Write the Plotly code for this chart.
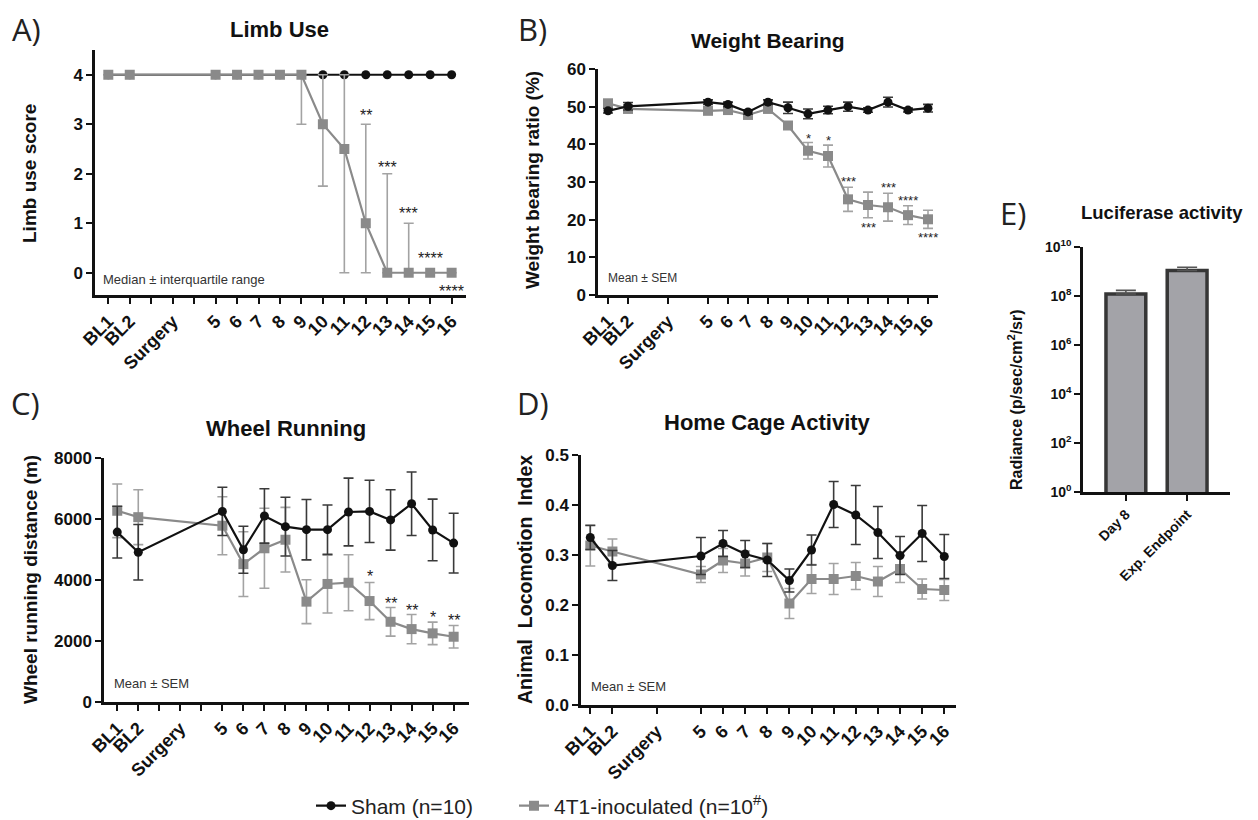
import plotly.graph_objects as go

W, H = 1258, 820
FONT = "Liberation Sans"
BLACK = "#111111"
GREY = "#8a8a8a"
GREY_ERR = "#a3a3a3"
BLACK_ERR = "#3a3a3a"

# ---- time points (numeric positions on the shared day axis) ----
days = [0, 1, 5, 6, 7, 8, 9, 10, 11, 12, 13, 14, 15, 16]
ticks_lab = [0, 1, 3] + list(range(5, 17))
ticks_lab_text = ["BL1", "BL2", "Surgery"] + [str(d) for d in range(5, 17)]
ticks_unlabelled = [2, 4]

# ---- A) Limb use: median with interquartile range ----
limb_sham = [4, 4, 4, 4, 4, 4, 4, 4, 4, 4, 4, 4, 4, 4]
limb_4t1 = [4, 4, 4, 4, 4, 4, 4, 3, 2.5, 1, 0, 0, 0, 0]
limb_4t1_q1 = [4, 4, 4, 4, 4, 4, 3, 1.75, 0, 0, 0, 0, 0, 0]
limb_4t1_q3 = [4, 4, 4, 4, 4, 4, 4, 4, 4, 3, 2, 1, 0, 0]
limb_stars = [(12, 3.25, "**"), (13, 2.2, "***"), (14, 1.26, "***"),
              (15, 0.36, "****"), (16, -0.3, "****")]

# ---- B) Weight bearing ratio (%) ----
wb_sham = [48.9, 50.1, 51.2, 50.6, 48.6, 51.2, 49.7, 48.1, 49.1, 50.0, 49.1, 51.2, 49.1, 49.6]
wb_sham_sem = [0.6, 1.0, 0.6, 0.6, 0.6, 0.6, 1.5, 1.3, 1.0, 1.2, 0.6, 1.3, 0.5, 1.0]
wb_4t1 = [50.9, 49.4, 48.9, 49.1, 47.8, 49.4, 45.0, 38.3, 36.9, 25.4, 23.9, 23.3, 21.2, 20.1]
wb_4t1_sem = [0.8, 0.8, 0.8, 0.8, 0.8, 0.8, 0.8, 2.2, 2.9, 3.2, 3.4, 3.7, 2.5, 2.4]
wb_stars = [(10, 42.2, "*"), (11, 41.8, "*"), (12, 31.0, "***"), (13, 18.6, "***"),
            (14, 29.2, "***"), (15, 25.8, "****"), (16, 15.9, "****")]

# ---- C) Wheel running distance (m) ----
wr_sham = [5570, 4910, 6250, 4990, 6100, 5750, 5650, 5650, 6230, 6250, 5970, 6500, 5640, 5210]
wr_sham_sem = [850, 910, 790, 770, 890, 965, 990, 810, 1110, 1020, 990, 1040, 1010, 980]
wr_4t1 = [6270, 6060, 5780, 4520, 5040, 5320, 3290, 3870, 3910, 3310, 2630, 2390, 2250, 2140]
wr_4t1_sem = [880, 900, 950, 1060, 1310, 1060, 720, 950, 920, 610, 470, 480, 370, 370]
wr_stars = [(12, 4219, "*"), (13, 3342, "**"), (14, 3101, "**"),
            (15, 2882, "*"), (16, 2795, "**")]

# ---- D) Home cage activity (locomotion index) ----
hc_sham = [0.335, 0.279, 0.298, 0.323, 0.302, 0.290, 0.249, 0.310, 0.401, 0.380, 0.345, 0.299, 0.343, 0.297]
hc_sham_sem = [0.024, 0.030, 0.037, 0.026, 0.027, 0.033, 0.023, 0.030, 0.046, 0.059, 0.052, 0.038, 0.056, 0.044]
hc_4t1 = [0.319, 0.307, 0.261, 0.289, 0.283, 0.295, 0.203, 0.252, 0.252, 0.258, 0.247, 0.272, 0.232, 0.230]
hc_4t1_sem = [0.041, 0.025, 0.016, 0.024, 0.025, 0.028, 0.030, 0.029, 0.031, 0.027, 0.030, 0.027, 0.020, 0.021]

# ---- E) Luciferase activity ----
luc_groups = ["Day 8", "Exp. Endpoint"]
luc_mean = [1.2e8, 1.1e9]
luc_sem = [0.5e8, 0.4e9]
luc_tickvals = [1, 1e2, 1e4, 1e6, 1e8, 1e10]
luc_ticktext = ["10<sup>0</sup>", "10<sup>2</sup>", "10<sup>4</sup>", "10<sup>6</sup>",
                "10<sup>8</sup>", "10<sup>10</sup>"]


def fx(px):
    return px / W


def fy(py):
    return 1 - py / H


fig = go.Figure()


def series(y, err_plus, err_minus, xa, ya, sham, show_legend=False):
    color = BLACK if sham else GREY
    ecolor = BLACK_ERR if sham else GREY_ERR
    err = None
    if err_plus is not None:
        err = dict(type="data", symmetric=False, array=err_plus, arrayminus=err_minus,
                   color=ecolor, thickness=1.6, width=5)
    fig.add_trace(go.Scatter(
        x=days, y=y, mode="lines+markers", xaxis=xa, yaxis=ya,
        name="Sham (n=10)" if sham else "4T1-inoculated (n=10<sup>#</sup>)",
        legend="legend" if sham else "legend2",
        legendgroup="sham" if sham else "4t1", showlegend=show_legend,
        line=dict(color=color, width=2.2),
        marker=dict(symbol="circle" if sham else "square", size=9 if sham else 10,
                    color=color),
        error_y=err,
    ))


# A: 4T1 drawn over sham
series(limb_sham, None, None, "x", "y", True, show_legend=True)
series(limb_4t1,
       [q3 - m for q3, m in zip(limb_4t1_q3, limb_4t1)],
       [m - q1 for q1, m in zip(limb_4t1_q1, limb_4t1)],
       "x", "y", False, show_legend=True)
# B, C, D: sham drawn over 4T1
series(wb_4t1, wb_4t1_sem, wb_4t1_sem, "x2", "y2", False)
series(wb_sham, wb_sham_sem, wb_sham_sem, "x2", "y2", True)
series(wr_4t1, wr_4t1_sem, wr_4t1_sem, "x3", "y3", False)
series(wr_sham, wr_sham_sem, wr_sham_sem, "x3", "y3", True)
series(hc_4t1, hc_4t1_sem, hc_4t1_sem, "x4", "y4", False)
series(hc_sham, hc_sham_sem, hc_sham_sem, "x4", "y4", True)

# E: bars
fig.add_trace(go.Bar(
    x=[0, 1], y=luc_mean, xaxis="x5", yaxis="y5", showlegend=False, width=0.65,
    marker=dict(color="#a3a3a8", line=dict(color="#363636", width=3.5)),
    error_y=dict(type="data", symmetric=False, array=luc_sem, arrayminus=[0, 0],
                 color="#555555", thickness=1.6, width=10),
))


def axis(size=16, **kw):
    base = dict(showline=True, linecolor="#111111", linewidth=2.5, ticks="outside",
                ticklen=6, tickwidth=2, tickcolor="#111111", showgrid=False,
                zeroline=False, automargin=False, fixedrange=True,
                tickfont=dict(family=FONT, size=size, color="#111111", weight="bold"))
    base.update(kw)
    return base


minor_blank = dict(tickmode="array", tickvals=ticks_unlabelled, ticks="outside",
                   ticklen=6, tickwidth=2, tickcolor="#111111", showgrid=False)

legend_common = dict(orientation="h", xanchor="left", yanchor="middle", y=fy(806),
                     font=dict(family=FONT, size=21, color="#222222"),
                     bgcolor="rgba(0,0,0,0)")

layout = dict(
    template="none",
    width=W, height=H, margin=dict(l=0, r=0, t=0, b=0, autoexpand=False),
    paper_bgcolor="white", plot_bgcolor="white",
    font=dict(family=FONT, color="#111111"),
    showlegend=True,
    legend=dict(x=fx(311), **legend_common),
    legend2=dict(x=fx(514), **legend_common),
    # A
    xaxis=axis(size=18, domain=[fx(95), fx(466)], range=[-0.62, 16.67], anchor="y",
               tickmode="array", tickvals=ticks_lab, ticktext=ticks_lab_text,
               tickangle=-45, minor=minor_blank),
    yaxis=axis(size=17, domain=[fy(295), fy(50)], range=[-0.45, 4.5], anchor="x",
               tickmode="array", tickvals=[0, 1, 2, 3, 4]),
    # B
    xaxis2=axis(size=18, domain=[fx(598), fx(938)], range=[-0.5, 16.5], anchor="y2",
                tickmode="array", tickvals=ticks_lab, ticktext=ticks_lab_text, tickangle=-45),
    yaxis2=axis(size=17, domain=[fy(295), fy(69)], range=[0, 60], anchor="x2",
                tickmode="array", tickvals=[0, 10, 20, 30, 40, 50, 60]),
    # C
    xaxis3=axis(size=18, domain=[fx(104), fx(469)], range=[-0.63, 16.73], anchor="y3",
                tickmode="array", tickvals=ticks_lab, ticktext=ticks_lab_text,
                tickangle=-45, minor=minor_blank),
    yaxis3=axis(size=17, domain=[fy(702), fy(458)], range=[0, 8000], anchor="x3",
                tickmode="array", tickvals=[0, 2000, 4000, 6000, 8000]),
    # D
    xaxis4=axis(size=18, domain=[fx(581), fx(956)], range=[-0.42, 16.53], anchor="y4",
                tickmode="array", tickvals=ticks_lab, ticktext=ticks_lab_text, tickangle=-45),
    yaxis4=axis(size=17, domain=[fy(705), fy(455)], range=[0, 0.5], anchor="x4",
                tickmode="array", tickvals=[0, 0.1, 0.2, 0.3, 0.4, 0.5], tickformat=".1f"),
    # E
    xaxis5=axis(size=14, domain=[fx(1083), fx(1230)], range=[-0.7, 1.7], anchor="y5",
                tickmode="array", tickvals=[0, 1], ticktext=luc_groups, tickangle=-45),
    yaxis5=axis(size=14, domain=[fy(492), fy(247)], type="log", range=[0, 10], anchor="x5",
                tickmode="array", tickvals=luc_tickvals, ticktext=luc_ticktext),
)
fig.update_layout(**layout)

ann = []


def paper_text(text, x, y, size, bold=False, angle=0, xanchor="center", color="#111111",
               family=FONT):
    ann.append(dict(text=f"<b>{text}</b>" if bold else text, x=fx(x), y=fy(y),
                    xref="paper", yref="paper", showarrow=False, textangle=angle,
                    xanchor=xanchor, yanchor="middle",
                    font=dict(family=family, size=size, color=color)))


# panel letters
for letter, lx, ly in [("A)", 10, 29), ("B)", 516, 29), ("C)", 9, 403),
                       ("D)", 515, 403), ("E)", 998, 213)]:
    paper_text(letter, lx, ly, 31, xanchor="left", color="#222222", family="Open Sans")

# panel titles
paper_text("Limb Use", 279, 29, 22, bold=True)
paper_text("Weight Bearing", 768, 40, 21, bold=True)
paper_text("Wheel Running", 286, 428, 22, bold=True)
paper_text("Home Cage Activity", 767, 422, 22, bold=True)
paper_text("Luciferase activity", 1162, 212, 18.5, bold=True)

# y axis titles
paper_text("Limb use score", 30, 174, 19, bold=True, angle=-90)
paper_text("Weight bearing ratio (%)", 533, 180, 19, bold=True, angle=-90)
paper_text("Wheel running distance (m)", 30, 580, 19, bold=True, angle=-90)
paper_text("Animal&nbsp; Locomotion&nbsp; Index", 525, 580, 19.5, bold=True, angle=-90)
paper_text("Radiance (p/sec/cm<sup>2</sup>/sr)", 1015, 400, 16, bold=True, angle=-90)

# summary statistic notes
paper_text("Median ± interquartile range", 101, 279, 13, xanchor="left", color="#333333")
paper_text("Mean ± SEM", 606, 278, 12, xanchor="left", color="#333333")
paper_text("Mean ± SEM", 112, 683, 13, xanchor="left", color="#333333")
paper_text("Mean ± SEM", 589, 686, 13, xanchor="left", color="#333333")

# significance markers
for stars, xa, ya, size in [(limb_stars, "x", "y", 16), (wb_stars, "x2", "y2", 13),
                            (wr_stars, "x3", "y3", 16)]:
    for sx, sy, st in stars:
        ann.append(dict(text=st, x=sx, y=sy, xref=xa, yref=ya, showarrow=False,
                        xanchor="center", yanchor="middle", yshift=-size * 0.22,
                        font=dict(family=FONT, size=size, color="#222222")))

fig.update_layout(annotations=ann)
fig.write_html("out.html", config={"displayModeBar": False})
